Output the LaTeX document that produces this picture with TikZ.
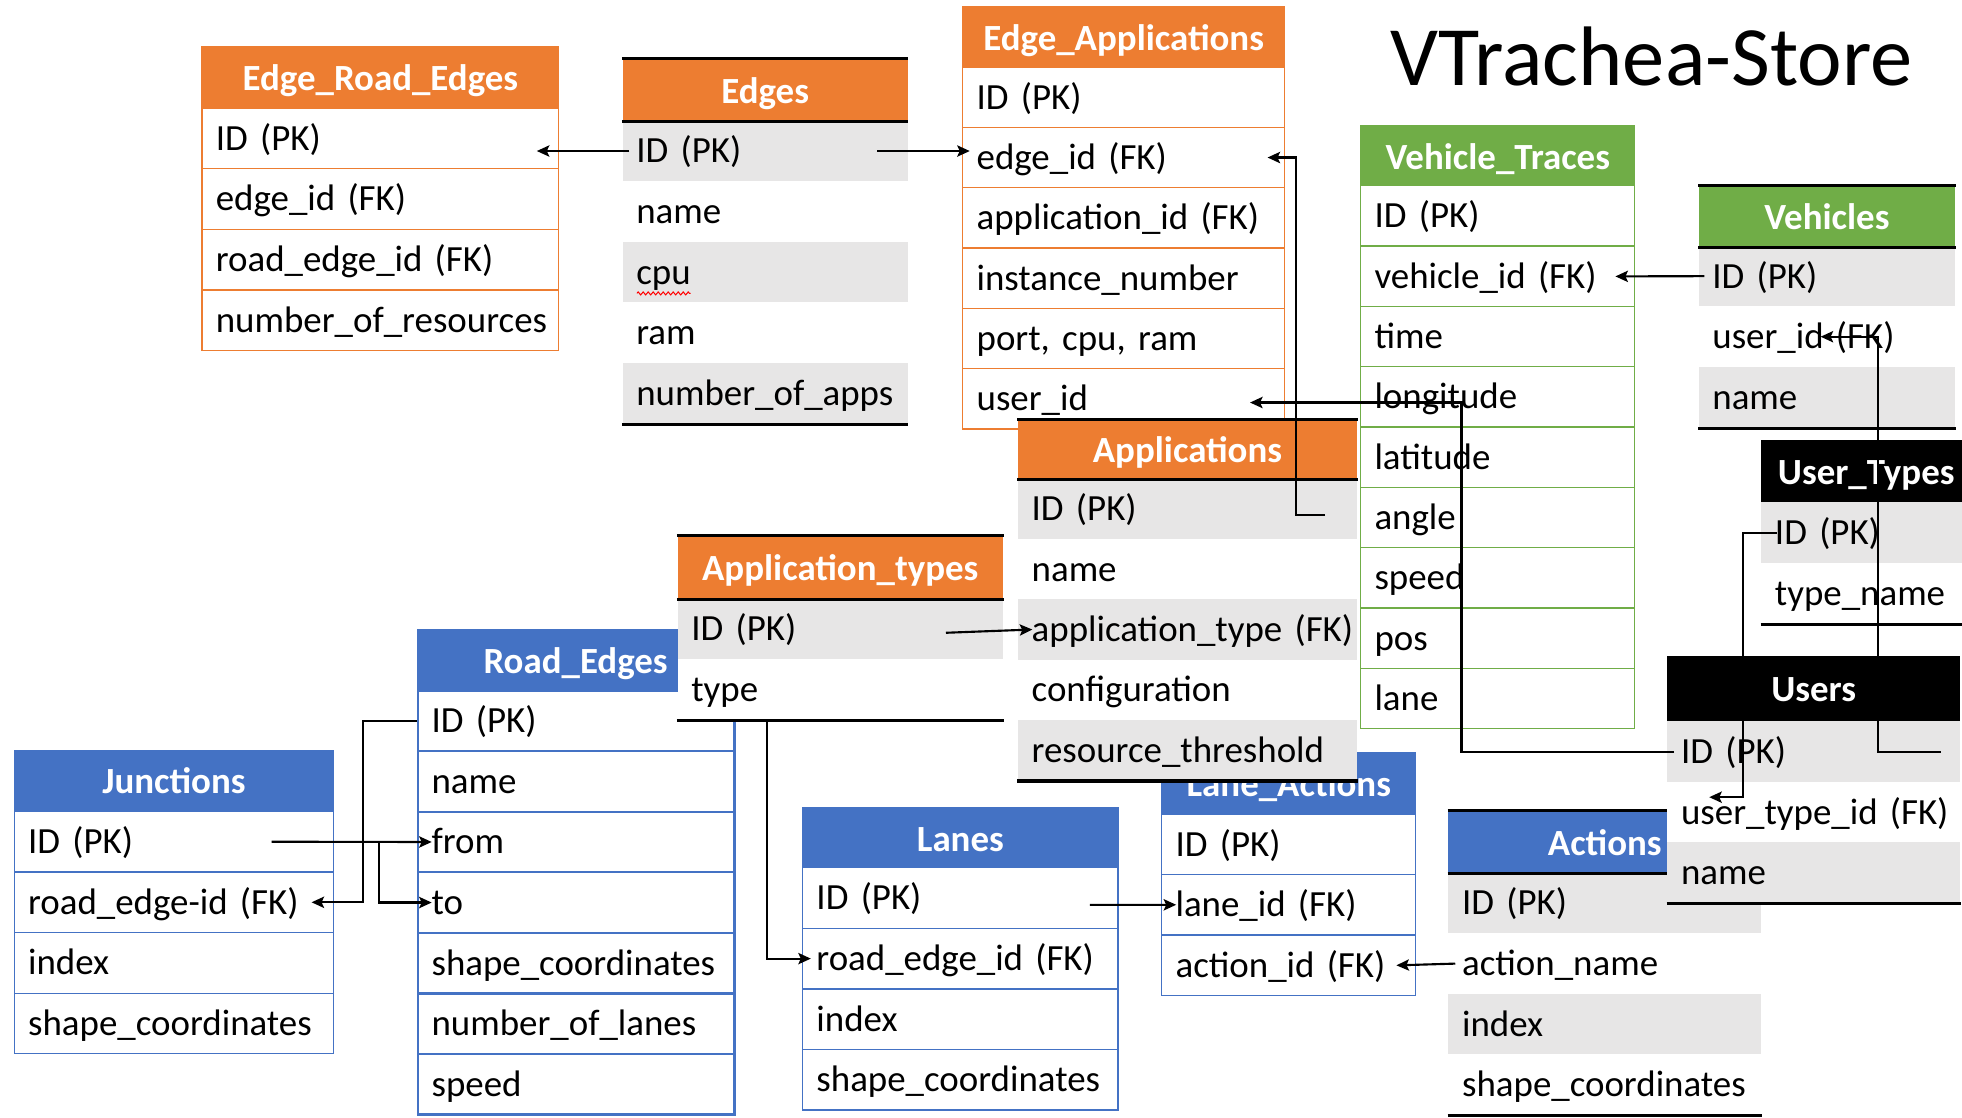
\documentclass[tikz,border=0pt]{standalone}
\usepackage{fontspec}
\setmainfont{Carlito}
\usepackage{tikz}
\usetikzlibrary{arrows.meta}
\usetikzlibrary{decorations.pathmorphing}
\definecolor{orn}{HTML}{ED7D31}
\definecolor{blu}{HTML}{4472C4}
\definecolor{grn}{HTML}{70AD47}
\definecolor{gry}{HTML}{E7E6E6}
\newcommand{\tabrowfont}{\fontsize{29.5}{32}\selectfont}
\newcommand{\tabheadfont}{\fontsize{29.5}{32}\selectfont\bfseries}
\tikzstyle{link}=[draw=black, line width=1.7pt, ->, >={Stealth[length=10pt, width=9pt, inset=2pt]}]
\tikzstyle{hline}=[draw=black, line width=2.5pt]
\tikzset{hd/.style={rectangle, anchor=north west, inner sep=0pt, minimum width=#1, minimum height=49pt, text height=25pt, text depth=4pt, font=\tabheadfont, text=white, line width=1pt}}
\tikzset{rw/.style={rectangle, anchor=north west, inner xsep=11pt, inner ysep=0pt, text width=#1, minimum height=48.4pt, text height=23pt, text depth=4pt, align=left, font=\tabrowfont, fill=white, line width=1pt}}

\begin{document}
\begin{tikzpicture}[x=1pt, y=-1pt]
		   \useasboundingbox[fill=white] (0,0) rectangle (1568,893);
		   % Edge_Road_Edges
		   \node[hd=285pt, fill=orn, draw=orn] (ere0) at (161,37) {Edge\_Road\_Edges};
		   \node[rw=263pt, draw=orn] (ere1) at (161,86) {ID~(PK)};
		   \node[rw=263pt, draw=orn] (ere2) at (161,134.4) {edge\_id~(FK)};
		   \node[rw=263pt, draw=orn] (ere3) at (161,182.8) {road\_edge\_id~(FK)};
		   \node[rw=263pt, draw=orn] (ere4) at (161,231.2) {number\_of\_resources};
		   % Edges
		   \node[hd=228pt, fill=orn] (ed0) at (497,47) {Edges};
		   \node[rw=206pt, fill=gry] (ed1) at (497,96) {ID~(PK)};
		   \node[rw=206pt] (ed2) at (497,144.4) {name};
		   \node[rw=206pt, fill=gry] (ed3) at (497,192.8) {cpu};
		   \node[rw=206pt] (ed4) at (497,241.2) {ram};
		   \node[rw=206pt, fill=gry] (ed5) at (497,289.6) {number\_of\_apps};
		   \draw[hline] (ed0.north west) -- (ed0.north east);
		   \draw[hline] (ed0.south west) -- (ed0.south east);
		   \draw[hline] (ed5.south west) -- (ed5.south east);
		   % Edge_Applications
		   \node[hd=257pt, fill=orn, draw=orn] (ea0) at (769,5) {Edge\_Applications};
		   \node[rw=235pt, draw=orn] (ea1) at (769,53) {ID~(PK)};
		   \node[rw=235pt, draw=orn] (ea2) at (769,101.2) {edge\_id~(FK)};
		   \node[rw=235pt, draw=orn] (ea3) at (769,149.4) {application\_id~(FK)};
		   \node[rw=235pt, draw=orn] (ea4) at (769,197.6) {instance\_number};
		   \node[rw=235pt, draw=orn] (ea5) at (769,245.8) {port, cpu, ram};
		   \node[rw=235pt, draw=orn] (ea6) at (769,294) {user\_id};
		   % Lane_Actions
		   \node[hd=203pt, fill=blu, draw=blu] (la0) at (928,601) {Lane\_Actions};
		   \node[rw=181pt, draw=blu] (la1) at (928,650) {ID~(PK)};
		   \node[rw=181pt, draw=blu] (la2) at (928,698.4) {lane\_id~(FK)};
		   \node[rw=181pt, draw=blu] (la3) at (928,746.8) {action\_id~(FK)};
		   % Applications
		   \node[hd=271pt, fill=orn, minimum height=47pt] (app0) at (813,335) {Applications};
		   \node[rw=249pt, fill=gry] (app1) at (813,382) {ID~(PK)};
		   \node[rw=249pt] (app2) at (813,430.2) {name};
		   \node[rw=249pt, fill=gry] (app3) at (813,478.4) {application\_type~(FK)};
		   \node[rw=249pt] (app4) at (813,526.6) {configuration};
		   \node[rw=249pt, fill=gry] (app5) at (813,574.8) {resource\_threshold};
		   \draw[hline] (app0.north west) -- (app0.north east);
		   \draw[hline] (app0.south west) -- (app0.south east);
		   \draw[hline] (app5.south west) -- (app5.south east);
		   % Vehicle_Traces
		   \node[hd=219pt, fill=grn, draw=grn] (vt0) at (1087,100) {Vehicle\_Traces};
		   \node[rw=197pt, draw=grn] (vt1) at (1087,148) {ID~(PK)};
		   \node[rw=197pt, draw=grn] (vt2) at (1087,196.2) {vehicle\_id~(FK)};
		   \node[rw=197pt, draw=grn] (vt3) at (1087,244.4) {time};
		   \node[rw=197pt, draw=grn] (vt4) at (1087,292.6) {longitude};
		   \node[rw=197pt, draw=grn] (vt5) at (1087,340.8) {latitude};
		   \node[rw=197pt, draw=grn] (vt6) at (1087,389) {angle};
		   \node[rw=197pt, draw=grn] (vt7) at (1087,437.2) {speed};
		   \node[rw=197pt, draw=grn] (vt8) at (1087,485.4) {pos};
		   \node[rw=197pt, draw=grn] (vt9) at (1087,533.6) {lane};
		   % Vehicles
		   \node[hd=205pt, fill=grn] (veh0) at (1357,148) {Vehicles};
		   \node[rw=183pt, fill=gry] (veh1) at (1357,196) {ID~(PK)};
		   \node[rw=183pt] (veh2) at (1357,244.4) {user\_id~(FK)};
		   \node[rw=183pt, fill=gry] (veh3) at (1357,292.8) {name};
		   \draw[hline] (veh0.north west) -- (veh0.north east);
		   \draw[hline] (veh0.south west) -- (veh0.south east);
		   \draw[hline] (veh3.south west) -- (veh3.south east);
		   % User_Types
		   \node[hd=168pt, fill=black, minimum height=50pt] (ut0) at (1407,351) {User\_Types};
		   \node[rw=146pt, fill=gry] (ut1) at (1407,401) {ID~(PK)};
		   \node[rw=146pt] (ut2) at (1407,449.4) {type\_name};
		   \draw[hline] (ut2.south west) -- (ut2.south east);
		   % Actions
		   \node[hd=250pt, fill=blu] (act0) at (1157,648) {Actions};
		   \node[rw=228pt, fill=gry] (act1) at (1157,697) {ID~(PK)};
		   \node[rw=228pt] (act2) at (1157,745.4) {action\_name};
		   \node[rw=228pt, fill=gry] (act3) at (1157,793.8) {index};
		   \node[rw=228pt] (act4) at (1157,842.2) {shape\_coordinates};
		   \draw[hline] (act0.north west) -- (act0.north east);
		   \draw[hline] (act0.south west) -- (act0.south east);
		   \draw[hline] (act4.south west) -- (act4.south east);
		   % Users
		   \node[hd=234pt, fill=black, minimum height=52pt] (usr0) at (1332,524) {Users};
		   \node[rw=212pt, fill=gry] (usr1) at (1332,576) {ID~(PK)};
		   \node[rw=212pt] (usr2) at (1332,624.4) {user\_type\_id~(FK)};
		   \node[rw=212pt, fill=gry] (usr3) at (1332,672.8) {name};
		   \draw[hline] (usr3.south west) -- (usr3.south east);
		   % Road_Edges
		   \node[hd=253pt, fill=blu, draw=blu] (re0) at (333,503) {Road\_Edges};
		   \node[rw=231pt, draw=blu, line width=1.8pt] (re1) at (333,551) {ID~(PK)};
		   \node[rw=231pt, draw=blu, line width=1.8pt] (re2) at (333,599.4) {name};
		   \node[rw=231pt, draw=blu, line width=1.8pt] (re3) at (333,647.8) {from};
		   \node[rw=231pt, draw=blu, line width=1.8pt] (re4) at (333,696.2) {to};
		   \node[rw=231pt, draw=blu, line width=1.8pt] (re5) at (333,744.6) {shape\_coordinates};
		   \node[rw=231pt, draw=blu, line width=1.8pt] (re6) at (333,793) {number\_of\_lanes};
		   \node[rw=231pt, draw=blu, line width=1.8pt] (re7) at (333,841.4) {speed};
		   % Application_types
		   \node[hd=260pt, fill=orn, minimum height=50pt] (at0) at (541,428) {Application\_types};
		   \node[rw=238pt, fill=gry] (at1) at (541,478) {ID~(PK)};
		   \node[rw=238pt] (at2) at (541,526.4) {type};
		   \draw[hline] (at0.north west) -- (at0.north east);
		   \draw[hline] (at0.south west) -- (at0.south east);
		   \draw[hline] (at2.south west) -- (at2.south east);
		   % Junctions
		   \node[hd=255pt, fill=blu, draw=blu] (jn0) at (11,599) {Junctions};
		   \node[rw=233pt, draw=blu] (jn1) at (11,648) {ID~(PK)};
		   \node[rw=233pt, draw=blu] (jn2) at (11,696.4) {road\_edge-id~(FK)};
		   \node[rw=233pt, draw=blu] (jn3) at (11,744.8) {index};
		   \node[rw=233pt, draw=blu] (jn4) at (11,793.2) {shape\_coordinates};
		   % Lanes
		   \node[hd=252pt, fill=blu, draw=blu] (ln0) at (641,645) {Lanes};
		   \node[rw=230pt, draw=blu] (ln1) at (641,693) {ID~(PK)};
		   \node[rw=230pt, draw=blu] (ln2) at (641,741.4) {road\_edge\_id~(FK)};
		   \node[rw=230pt, draw=blu] (ln3) at (641,789.8) {index};
		   \node[rw=230pt, draw=blu] (ln4) at (641,838.2) {shape\_coordinates};
		   % title
		   \node[font=\fontsize{67.5}{70}\selectfont] (title) at (1320,45) {VTrachea-Store};
		   % keys
		   \draw[link] ([xshift=6pt]ed1.west) -- ([xshift=-18pt,yshift=-10pt]ere1.east);
		   \draw[link] ([xshift=-25pt]ed1.east) -- ([xshift=6pt,yshift=5.2pt]ea2.west);
		   \draw[link] ([xshift=-26pt,yshift=-5pt]app1.east) -- ++(-23,0) |- ([xshift=-14pt]ea2.east);
		   \draw[link] ([xshift=6pt]usr1.west) -- ++(-170,0) |- ([xshift=-28pt,yshift=-3pt]ea6.east);
		   \draw[link] ([xshift=5pt]veh1.west) -- ([xshift=-16pt]vt2.east);
		   \draw[link] ([xshift=-16pt]usr1.east) -- ++(-50,0) |- ([xshift=98pt]veh2.west);
		   \draw[link] ([xshift=13pt]ut1.west) -- ++(-27,0) |- ([xshift=34pt,yshift=12pt]usr2.west);
		   \draw[link] ([xshift=-46pt,yshift=-3pt]at1.east) -- ([xshift=12pt]app3.west);
		   \draw[link] (re1.west) -- ++(-43,0) |- ([xshift=-18pt]jn2.east);
		   \draw[link] ([xshift=-50pt]jn1.east) -- ([xshift=12pt]re3.west);
		   \draw[link] ([xshift=-50pt]jn1.east) -- ++(86,0) |- ([xshift=12pt]re4.west);
		   \draw[link] ([xshift=-11pt]re1.east) -- ++(36,0) |- ([xshift=7pt]ln2.west);
		   \draw[link] ([xshift=-23pt,yshift=-5.5pt]ln1.east) -- ([xshift=12pt]la2.west);
		   \draw[link] ([xshift=6pt]act2.west) -- ([xshift=-16pt]la3.east);
		   \draw[red, line width=0.8pt, decorate, decoration={zigzag, segment length=4pt, amplitude=1.2pt}] ([xshift=12pt,yshift=-17pt]ed3.west) -- ++(43,0);
\end{tikzpicture}
\end{document}
